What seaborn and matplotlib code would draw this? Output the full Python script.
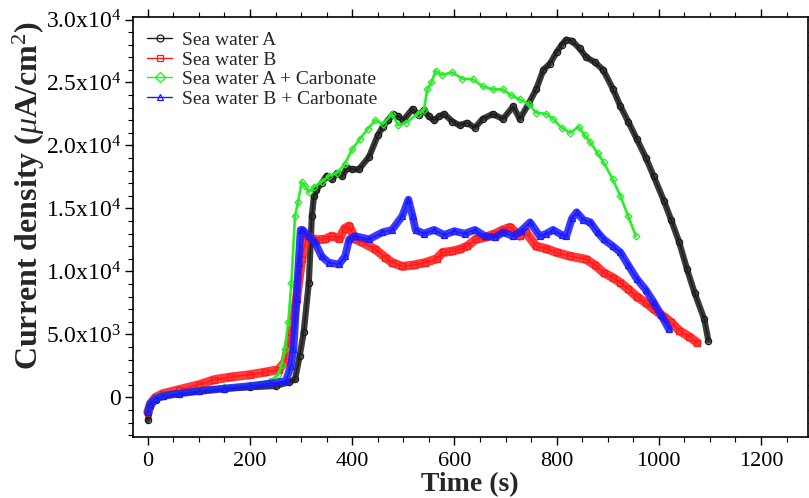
import numpy as np
import pandas as pd
import matplotlib
matplotlib.use("Agg")
import matplotlib.pyplot as plt
import seaborn as sns
from matplotlib.ticker import MultipleLocator, FixedLocator, FixedFormatter

# ---- data ----
labels = ["Sea water A", "Sea water B", "Sea water A + Carbonate", "Sea water B + Carbonate"]

t_a = [0, 5, 15, 30, 60, 100, 150, 200, 250, 276, 288, 297, 305, 315, 321, 325, 330, 340, 350,
       360, 370, 380, 390, 400, 413, 433, 450, 460, 470, 480, 490, 500, 518, 530, 540, 550, 560,
       570, 580, 596, 610, 625, 640, 655, 675, 695, 715, 728, 745, 760, 774, 787, 800, 810, 819,
       830, 845, 858, 875, 891, 910, 925, 940, 957, 975, 990, 1010, 1024, 1040, 1055, 1070, 1089, 1097]
v_a = [-1800, -800, -200, 100, 300, 500, 700, 800, 900, 1200, 1430, 3250, 5150, 9100, 14400, 15960,
       16500, 17000, 17600, 17300, 17800, 17550, 18200, 18100, 18100, 19100, 20800, 21500, 22000,
       22500, 22300, 22000, 22900, 22400, 22800, 22300, 22000, 22300, 22500, 21900, 21600, 21800,
       21400, 22100, 22500, 22100, 23100, 22100, 23300, 24450, 26000, 26500, 27400, 28000, 28400,
       28300, 27700, 27000, 26600, 26000, 24500, 23100, 21900, 20500, 19000, 17550, 15600, 14100,
       12300, 10200, 8300, 6200, 4500]

t_b = [0, 5, 15, 30, 60, 100, 130, 160, 200, 230, 256, 268, 281, 291, 301, 311, 330, 346, 360,
       375, 385, 394, 406, 420, 445, 465, 478, 498, 520, 543, 565, 577, 595, 610, 625, 642, 660,
       680, 695, 709, 728, 740, 760, 780, 800, 827, 858, 875, 892, 910, 925, 940, 957, 975, 990,
       1010, 1024, 1040, 1060, 1075]
v_b = [-1200, -500, 0, 300, 600, 1000, 1400, 1600, 1800, 2000, 2200, 2800, 5150, 7800, 11000, 12800,
       12500, 12550, 12800, 12600, 13400, 13600, 12550, 12300, 11750, 11100, 10700, 10400, 10500,
       10700, 11000, 11500, 11600, 11750, 12000, 12550, 12700, 13000, 13300, 13500, 12800, 13100,
       12000, 11800, 11500, 11200, 10950, 10500, 9900, 9500, 9100, 8600, 8000, 7500, 7000, 6400,
       5950, 5300, 4800, 4350]

t_c = [0, 5, 15, 30, 60, 100, 150, 200, 240, 255, 262, 268, 275, 281, 288, 294, 301, 308, 315, 325,
       340, 355, 370, 385, 400, 415, 430, 445, 460, 478, 490, 505, 528, 540, 547, 555, 563, 575,
       596, 615, 636, 655, 675, 695, 710, 728, 745, 760, 780, 793, 810, 827, 843, 855, 866, 880,
       892, 910, 925, 940, 955]
v_c = [-1000, -400, 0, 200, 400, 600, 800, 1000, 1300, 1800, 2600, 3800, 6000, 9100, 14400, 15500,
       17100, 16800, 16300, 16700, 17100, 17600, 17800, 18500, 19700, 20500, 21300, 22000, 21700,
       22500, 21600, 21800, 22500, 22800, 24450, 25000, 25900, 25600, 25800, 25300, 25250, 24700,
       24450, 24450, 24000, 23650, 23300, 22600, 22500, 22100, 21400, 21000, 21500, 20800, 20250,
       19400, 18650, 17300, 15950, 14400, 12800]

t_d = [0, 5, 15, 30, 60, 100, 150, 200, 240, 270, 280, 285, 291, 295, 299, 303, 315, 327, 340,
       354, 374, 386, 394, 406, 433, 459, 478, 498, 510, 518, 524, 540, 560, 580, 600, 620, 640,
       660, 680, 695, 715, 730, 748, 767, 780, 793, 810, 819, 830, 839, 852, 866, 880, 892, 910,
       925, 940, 957, 975, 990, 1005, 1020]
v_d = [-1200, -500, -100, 100, 300, 500, 700, 900, 1100, 1300, 2500, 3800, 7800, 10700, 13300, 13300,
       12800, 12300, 11200, 10700, 10550, 11200, 12550, 12800, 12550, 13100, 13300, 14400, 15700,
       14400, 13300, 13000, 13300, 12900, 13200, 13000, 13300, 12800, 12700, 13100, 12800, 13200,
       13900, 12800, 13000, 13300, 12900, 12800, 14200, 14700, 14100, 13900, 13100, 12550, 12000,
       11500, 10500, 9400, 8500, 7550, 6500, 5400]

y_ticks = [0, 5000, 10000, 15000, 20000, 25000, 30000]
y_ticklabels = ["0", r"5.0x10$^3$", r"1.0x10$^4$", r"1.5x10$^4$", r"2.0x10$^4$", r"2.5x10$^4$", r"3.0x10$^4$"]
x_ticks = [0, 200, 400, 600, 800, 1000, 1200]

# ---- styling ----
sns.set_theme(style="ticks")
plt.rcParams["font.family"] = ["Liberation Serif", "DejaVu Serif"]
plt.rcParams["mathtext.fontset"] = "custom"
plt.rcParams["mathtext.rm"] = "Liberation Serif"
plt.rcParams["mathtext.it"] = "Liberation Serif:italic"
plt.rcParams["mathtext.bf"] = "Liberation Serif:bold"
plt.rcParams["mathtext.bfit"] = "Liberation Serif:bold:italic"

fig = plt.figure(figsize=(8.09, 4.98), dpi=100)
ax = fig.add_axes([0.1638, 0.1225, 0.835, 0.8434])

series = [
    (t_a, v_a, "#1a1a1a", "o", 4.5),
    (t_b, v_b, "#ff1a1a", "s", 5.0),
    (t_c, v_c, "#22ee22", "D", 3.5),
    (t_d, v_d, "#1a1aff", "^", 5.0),
]
band_w = [4.5, 6.5, 2.0, 5.5]

for (t, v, col, mk, ms), lab, bw in zip(series, labels, band_w):
    df = pd.DataFrame({"t": t, "v": v})
    # thick band imitating the dense overlapping markers
    sns.lineplot(data=df, x="t", y="v", ax=ax, color=col, lw=bw, alpha=0.85,
                 estimator=None, sort=False, legend=False)
    sns.lineplot(data=df, x="t", y="v", ax=ax, color=col, lw=1.0, marker=mk,
                 markersize=ms, markerfacecolor="none", markeredgecolor=col,
                 markeredgewidth=0.9, estimator=None, sort=False, label=lab)

ax.set_xlim(-30, 1292)
ax.set_ylim(-3150, 30200)

ax.xaxis.set_major_locator(FixedLocator(x_ticks))
ax.xaxis.set_minor_locator(MultipleLocator(50))
ax.yaxis.set_major_locator(FixedLocator(y_ticks))
ax.yaxis.set_major_formatter(FixedFormatter(y_ticklabels))
ax.yaxis.set_minor_locator(MultipleLocator(1000))

ax.tick_params(which="both", direction="out", top=True, right=True, colors="black")
ax.tick_params(which="major", length=6, width=1.0)
ax.tick_params(which="minor", length=3.5, width=0.8)
ax.tick_params(axis="x", which="major", labelsize=16, pad=4.5)
ax.tick_params(axis="y", which="major", labelsize=17, pad=2.5)
for sp in ax.spines.values():
    sp.set_linewidth(1.2)
    sp.set_color("black")

ax.set_xlabel("Time (s)", fontsize=20, fontweight="bold", labelpad=1)
ax.set_ylabel(r"Current density ($\mu$A/cm$^2$)", fontsize=23, fontweight="bold")
ax.yaxis.set_label_coords(-0.127, 0.574)

leg = ax.legend(loc="upper left", frameon=False, fontsize=14, handlelength=1.3,
                handletextpad=0.5, labelspacing=0.1, borderaxespad=0.35,
                bbox_to_anchor=(0.0, 1.0))
for h in leg.legend_handles:
    h.set_linewidth(1.0)
    h.set_markersize(5)

fig.savefig("out.png", dpi=100)
